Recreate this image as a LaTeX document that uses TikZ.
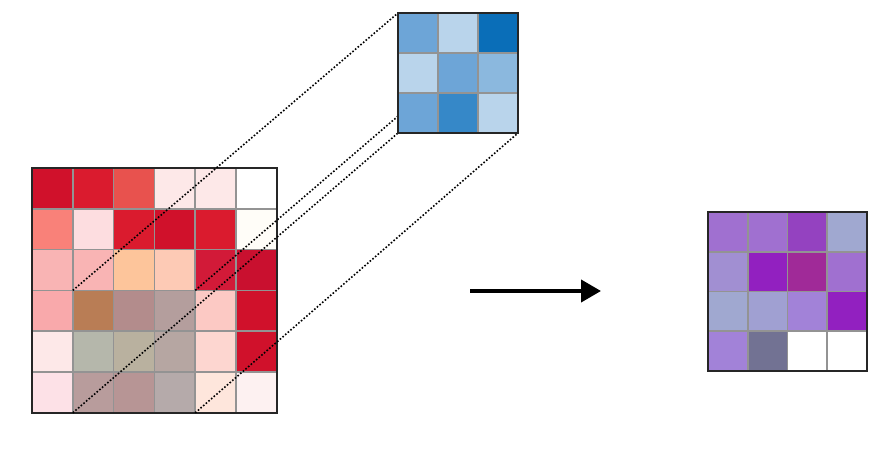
\documentclass[tikz,border=0pt]{standalone}
\usetikzlibrary{arrows.meta}
% input colours
\definecolor{deepred}{HTML}{D0112B}
\definecolor{brightred}{HTML}{DA1B2E}
\definecolor{tomato}{HTML}{E8524E}
\definecolor{blush}{HTML}{FDE8E8}
\definecolor{salmon}{HTML}{F98179}
\definecolor{palepink}{HTML}{FDDDE0}
\definecolor{nearwhite}{HTML}{FFFDF8}
\definecolor{rosepink}{HTML}{F9B4B4}
\definecolor{peach}{HTML}{FDC59B}
\definecolor{lightpeach}{HTML}{FDCAB5}
\definecolor{crimson}{HTML}{D21A38}
\definecolor{darkcrimson}{HTML}{C9102F}
\definecolor{pinkish}{HTML}{F9A9AB}
\definecolor{brownish}{HTML}{B97D55}
\definecolor{mauve}{HTML}{B38C8C}
\definecolor{greymauve}{HTML}{B49E9D}
\definecolor{softpink}{HTML}{FCC9C4}
\definecolor{greygreen}{HTML}{B5B7AB}
\definecolor{taupe}{HTML}{B9B19F}
\definecolor{greyrose}{HTML}{B6A6A2}
\definecolor{shellpink}{HTML}{FDD6D0}
\definecolor{lilacpink}{HTML}{FDE1E7}
\definecolor{dustyrose}{HTML}{B89C9C}
\definecolor{rosewood}{HTML}{B79595}
\definecolor{ashrose}{HTML}{B5AAAA}
\definecolor{creampeach}{HTML}{FEE6DC}
\definecolor{snow}{HTML}{FDF1F1}
% kernel colours
\definecolor{midblue}{HTML}{6DA5D7}
\definecolor{paleblue}{HTML}{B9D4EB}
\definecolor{deepblue}{HTML}{0A6EB8}
\definecolor{skyblue}{HTML}{8BB8DE}
\definecolor{strongblue}{HTML}{3688C8}
% output colours
\definecolor{lavender}{HTML}{A070D0}
\definecolor{orchid}{HTML}{9442C0}
\definecolor{periwinkle}{HTML}{A0A8D0}
\definecolor{lilac}{HTML}{A18FD2}
\definecolor{violet}{HTML}{9220C0}
\definecolor{plum}{HTML}{A02A98}
\definecolor{heather}{HTML}{A0A0D2}
\definecolor{amethyst}{HTML}{A282D8}
\definecolor{slate}{HTML}{727293}
\begin{document}
\begin{tikzpicture}[x=1pt,y=1pt,
cell/.style={
draw=gray!85,
line width=1.6pt,
inner sep=0pt,
outer sep=0pt,
},
icell/.style={
cell,
minimum size=40.8pt,
},
kcell/.style={
cell,
minimum size=40pt,
},
ocell/.style={
cell,
minimum size=39.75pt,
},
frame/.style={
draw=black!85,
line width=1.8pt,
inner sep=0pt,
outer sep=0pt,
},
ghost/.style={
inner sep=0pt,
outer sep=0pt,
minimum size=120pt,
},
window/.style={
dash pattern=on 1.6pt off 1.9pt,
line width=1.6pt,
},
]
\useasboundingbox (0,0) rectangle (893,448);
% input grid
\node[icell,fill=deepred](i00)at(52.4,259.6){};
\node[icell,fill=brightred](i01)at(93.2,259.6){};
\node[icell,fill=tomato](i02)at(134.0,259.6){};
\node[icell,fill=blush](i03)at(174.8,259.6){};
\node[icell,fill=blush](i04)at(215.6,259.6){};
\node[icell,fill=white](i05)at(256.4,259.6){};
\node[icell,fill=salmon](i10)at(52.4,218.8){};
\node[icell,fill=palepink](i11)at(93.2,218.8){};
\node[icell,fill=brightred](i12)at(134.0,218.8){};
\node[icell,fill=deepred](i13)at(174.8,218.8){};
\node[icell,fill=brightred](i14)at(215.6,218.8){};
\node[icell,fill=nearwhite](i15)at(256.4,218.8){};
\node[icell,fill=rosepink](i20)at(52.4,178.0){};
\node[icell,fill=rosepink](i21)at(93.2,178.0){};
\node[icell,fill=peach](i22)at(134.0,178.0){};
\node[icell,fill=lightpeach](i23)at(174.8,178.0){};
\node[icell,fill=crimson](i24)at(215.6,178.0){};
\node[icell,fill=darkcrimson](i25)at(256.4,178.0){};
\node[icell,fill=pinkish](i30)at(52.4,137.2){};
\node[icell,fill=brownish](i31)at(93.2,137.2){};
\node[icell,fill=mauve](i32)at(134.0,137.2){};
\node[icell,fill=greymauve](i33)at(174.8,137.2){};
\node[icell,fill=softpink](i34)at(215.6,137.2){};
\node[icell,fill=deepred](i35)at(256.4,137.2){};
\node[icell,fill=blush](i40)at(52.4,96.4){};
\node[icell,fill=greygreen](i41)at(93.2,96.4){};
\node[icell,fill=taupe](i42)at(134.0,96.4){};
\node[icell,fill=greyrose](i43)at(174.8,96.4){};
\node[icell,fill=shellpink](i44)at(215.6,96.4){};
\node[icell,fill=deepred](i45)at(256.4,96.4){};
\node[icell,fill=lilacpink](i50)at(52.4,55.6){};
\node[icell,fill=dustyrose](i51)at(93.2,55.6){};
\node[icell,fill=rosewood](i52)at(134.0,55.6){};
\node[icell,fill=ashrose](i53)at(174.8,55.6){};
\node[icell,fill=creampeach](i54)at(215.6,55.6){};
\node[icell,fill=snow](i55)at(256.4,55.6){};
\node[frame,minimum size=244.8pt](input)at(154.4,157.6){};
% window lines
\node[ghost](kernel)at(458,375){};
\draw[window](i31.north west)--(kernel.north west);
\draw[window](i33.north east)--(kernel.north east);
\draw[window](i51.south west)--(kernel.south west);
\draw[window](i53.south east)--(kernel.south east);
% kernel
\node[kcell,fill=midblue](k00)at(418,415){};
\node[kcell,fill=paleblue](k01)at(458,415){};
\node[kcell,fill=deepblue](k02)at(498,415){};
\node[kcell,fill=paleblue](k10)at(418,375){};
\node[kcell,fill=midblue](k11)at(458,375){};
\node[kcell,fill=skyblue](k12)at(498,375){};
\node[kcell,fill=midblue](k20)at(418,335){};
\node[kcell,fill=strongblue](k21)at(458,335){};
\node[kcell,fill=paleblue](k22)at(498,335){};
\node[frame,minimum size=120pt](kframe)at(kernel){};
% output grid
\node[ocell,fill=lavender](o00)at(727.9,216.1){};
\node[ocell,fill=lavender](o01)at(767.6,216.1){};
\node[ocell,fill=orchid](o02)at(807.4,216.1){};
\node[ocell,fill=periwinkle](o03)at(847.1,216.1){};
\node[ocell,fill=lilac](o10)at(727.9,176.4){};
\node[ocell,fill=violet](o11)at(767.6,176.4){};
\node[ocell,fill=plum](o12)at(807.4,176.4){};
\node[ocell,fill=lavender](o13)at(847.1,176.4){};
\node[ocell,fill=periwinkle](o20)at(727.9,136.6){};
\node[ocell,fill=heather](o21)at(767.6,136.6){};
\node[ocell,fill=amethyst](o22)at(807.4,136.6){};
\node[ocell,fill=violet](o23)at(847.1,136.6){};
\node[ocell,fill=amethyst](o30)at(727.9,96.9){};
\node[ocell,fill=slate](o31)at(767.6,96.9){};
\node[ocell,fill=white](o32)at(807.4,96.9){};
\node[ocell,fill=white](o33)at(847.1,96.9){};
\node[frame,minimum size=159pt](output)at(787.5,156.5){};
% arrow
\coordinate(arrowstart)at(470,157);
\coordinate(arrowend)at(601,157);
\draw[line width=4pt,-{Triangle[length=20pt,width=22pt]}](arrowstart)--(arrowend);

\end{tikzpicture}
\end{document}
